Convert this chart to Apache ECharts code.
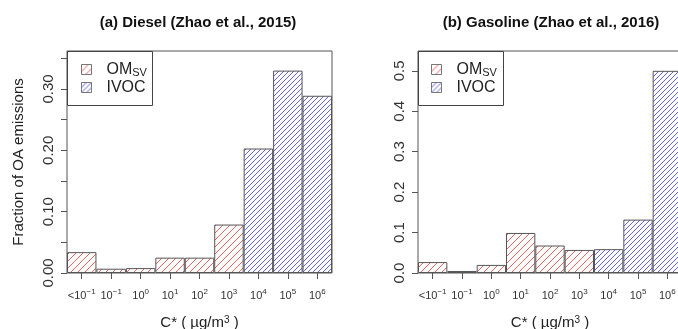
<!DOCTYPE html>
<html>
<head>
<meta charset="utf-8">
<script src="https://cdn.jsdelivr.net/npm/echarts@6/dist/echarts.min.js"></script>
<style>
html, body { margin: 0; padding: 0; background: #fff; }
#chart { width: 678px; height: 329px; }
</style>
</head>
<body>
<div id="chart"></div>
<script>
// Volatility bins (C*, µg/m3)
const categories = ['<10^-1', '10^-1', '10^0', '10^1', '10^2', '10^3', '10^4', '10^5', '10^6'];

// (a) Diesel — fraction of OA emissions per bin
const dieselOMsv = [0.034, 0.007, 0.008, 0.025, 0.025, 0.079, null, null, null];
const dieselIVOC = [null, null, null, null, null, null, 0.203, 0.330, 0.289];

// (b) Gasoline — fraction of OA emissions per bin
const gasolineOMsv = [0.027, 0.005, 0.020, 0.099, 0.068, 0.057, null, null, null];
const gasolineIVOC = [null, null, null, null, null, null, 0.059, 0.132, 0.500];

// Axis ticks and labelled values
const dieselTicks = [0, 0.05, 0.10, 0.15, 0.20, 0.25, 0.30, 0.35];
const dieselTickLabels = [0, 0.10, 0.20, 0.30];
const gasolineTicks = [0, 0.1, 0.2, 0.3, 0.4, 0.5];

const seriesNames = ['OMsv', 'IVOC'];
const titles = ['(a) Diesel (Zhao et al., 2015)', '(b) Gasoline (Zhao et al., 2016)'];
const xName = 'C* ( \u00b5g/m{sup|3} )';
const yName = 'Fraction of OA emissions';

const FONT = '"Liberation Sans", Arial, Helvetica, sans-serif';

// Diagonal hatch fill ("/" lines, `gap` px apart) on a square repeating tile
function hatch(color, gap, tile, width) {
  const c = document.createElement('canvas');
  c.width = tile; c.height = tile;
  const g = c.getContext('2d');
  g.fillStyle = '#ffffff';
  g.fillRect(0, 0, tile, tile);
  g.strokeStyle = color;
  g.lineWidth = width;
  g.beginPath();
  for (let k = 0; k <= 2 * tile; k += gap) {
    g.moveTo(k + 1, -1);
    g.lineTo(-1, k + 1);
  }
  g.stroke();
  return { image: c, repeat: 'repeat' };
}
const redHatch = hatch('rgb(230, 100, 100)', 7, 14, 1);
const blueHatch = hatch('rgb(100, 100, 232)', 5, 10, 1);

const BORDER = '#555';

function tickLabel(v) {
  const m = v.match(/^(<?10)\^(.+)$/);
  return '{b|' + m[1] + '}{s|' + m[2].replace('-', '\u2212') + '}';
}

function xAxisFor(gridIndex) {
  return {
    type: 'category', gridIndex: gridIndex, data: categories, boundaryGap: true,
    axisLine: { show: false },
    axisTick: { show: true, alignWithLabel: true, length: 6, lineStyle: { color: BORDER } },
    axisLabel: {
      interval: 0, margin: 15, color: '#333', fontFamily: FONT, fontSize: 11,
      formatter: tickLabel,
      rich: {
        b: { fontSize: 11, fontFamily: FONT, color: '#333', verticalAlign: 'bottom' },
        s: { fontSize: 8, fontFamily: FONT, color: '#333', verticalAlign: 'bottom', padding: [0, 0, 5, 0] }
      }
    },
    name: xName, nameLocation: 'middle', nameGap: 42,
    nameTextStyle: {
      fontSize: 15, fontFamily: FONT, color: '#222',
      rich: { sup: { fontSize: 10, fontFamily: FONT, color: '#222', verticalAlign: 'bottom', padding: [0, 0, 6, 0] } }
    }
  };
}

function yAxisFor(gridIndex, max, ticks, labels, digits, withName) {
  return {
    type: 'value', gridIndex: gridIndex, min: 0, max: max,
    splitLine: { show: false },
    axisLine: { show: false },
    axisTick: { show: true, length: 6, lineStyle: { color: BORDER }, customValues: ticks },
    axisLabel: {
      rotate: 90, margin: 11, color: '#333', fontFamily: FONT, fontSize: 15,
      customValues: labels,
      formatter: v => v.toFixed(digits)
    },
    name: withName ? yName : '', nameLocation: 'middle', nameGap: 41, nameRotate: 90,
    nameTextStyle: { fontSize: 15, fontFamily: FONT, color: '#222' }
  };
}

function barSeries(name, data, fill, axisIndex) {
  return {
    type: 'bar', name: name, data: data,
    xAxisIndex: axisIndex, yAxisIndex: axisIndex,
    barWidth: '100%', barGap: '-100%',
    itemStyle: { color: fill, borderColor: BORDER, borderWidth: 1 },
    emphasis: { disabled: true }
  };
}

function legendAt(left) {
  return {
    data: seriesNames, orient: 'vertical', left: left, top: 61, padding: 0,
    icon: 'rect', itemWidth: 10, itemHeight: 10, itemGap: 1,
    selectedMode: false,
    itemStyle: { borderColor: '#777', borderWidth: 1 },
    formatter: n => n === 'OMsv' ? '{gap|}OM{sub|SV}' : '{gap|}IVOC',
    textStyle: {
      fontSize: 16, fontFamily: FONT, color: '#222', lineHeight: 17,
      rich: {
        gap: { width: 10 },
        sub: { fontSize: 11, fontFamily: FONT, color: '#222', verticalAlign: 'bottom', lineHeight: 17, padding: [3, 0, 0, 0] }
      }
    }
  };
}

function legendBox(x) {
  return {
    type: 'rect', z: 3,
    shape: { x: x + 0.5, y: 51.5, width: 85, height: 54 },
    style: { fill: '#fff', stroke: '#444', lineWidth: 1 }
  };
}

function titleText(x, text) {
  return {
    type: 'text', x: x, y: 23,
    style: { text: text, font: 'bold 15px ' + FONT, fill: '#111', align: 'center', verticalAlign: 'middle' }
  };
}

const gridBase = { top: 51, height: 222, show: true, borderColor: BORDER, borderWidth: 1, backgroundColor: 'transparent', outerBoundsMode: 'none', containLabel: false };

const chart = echarts.init(document.getElementById('chart'), null, { renderer: 'canvas' });
chart.setOption({
  animation: false,
  backgroundColor: '#fff',
  grid: [
    Object.assign({ left: 67, width: 265 }, gridBase),
    Object.assign({ left: 418, width: 264 }, gridBase)
  ],
  xAxis: [xAxisFor(0), xAxisFor(1)],
  yAxis: [
    yAxisFor(0, 0.362, dieselTicks, dieselTickLabels, 2, true),
    yAxisFor(1, 0.549, gasolineTicks, gasolineTicks, 1, false)
  ],
  legend: [legendAt(81), legendAt(431)],
  series: [
    barSeries(seriesNames[0], dieselOMsv, redHatch, 0),
    barSeries(seriesNames[1], dieselIVOC, blueHatch, 0),
    barSeries(seriesNames[0], gasolineOMsv, redHatch, 1),
    barSeries(seriesNames[1], gasolineIVOC, blueHatch, 1)
  ],
  graphic: [
    legendBox(67), legendBox(418),
    titleText(198, titles[0]), titleText(551, titles[1])
  ]
});
</script>
</body>
</html>
